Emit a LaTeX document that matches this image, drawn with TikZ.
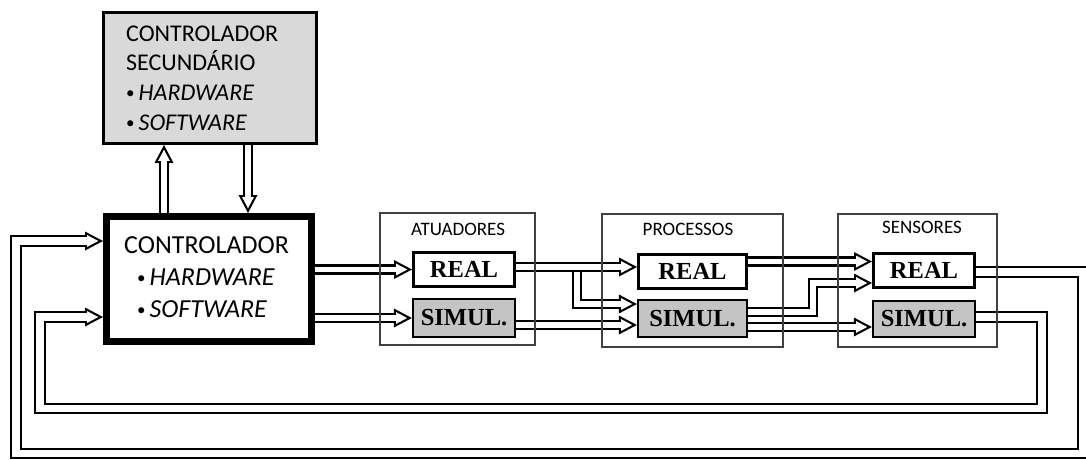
\documentclass[tikz,border=0pt]{standalone}
\usepackage{fontspec}
\setmainfont{Carlito}
\newfontfamily\rsfont{Liberation Serif}
\usetikzlibrary{arrows.meta}
\definecolor{secgray}{HTML}{D9D9D9}
\definecolor{simgray}{HTML}{C4C4C4}
\newcommand\mySecFont{\fontsize{24pt}{29pt}\selectfont}
\newcommand\myCtrlFont{\fontsize{26pt}{31pt}\selectfont}
\newcommand\myLblFont{\fontsize{19pt}{22pt}\selectfont}
\newcommand\myBoxFont{\rsfont\bfseries\fontsize{24.5pt}{27pt}\selectfont}
\newcommand\myBul{{\fontsize{17pt}{17pt}\selectfont\raisebox{1.5pt}{•}}\hspace{4pt}}
\begin{document}
\begin{tikzpicture}[x=1pt,y=-1pt,
  txt/.style={inner sep=0pt, anchor=base west},
  lbl/.style={inner sep=0pt, anchor=base, font=\myLblFont},
  grp/.style={draw=black!75, line width=1.3pt, inner sep=0pt},
  realbox/.style={draw, line width=3pt, fill=white, inner sep=0pt, font=\myBoxFont},
  simbox/.style={draw, line width=2.2pt, fill=simgray, inner sep=0pt, font=\myBoxFont},
  ctrlbox/.style={draw, line width=7pt, fill=white, inner sep=0pt},
  secbox/.style={draw, line width=3pt, fill=secgray, inner sep=0pt},
  fwd/.style={line join=miter, line width=10.2pt,
    -{Triangle[length=18pt,width=19pt,line width=0pt]},
    postaction={draw=white, line width=5.8pt, shorten >=4.72pt,
      -{Triangle[length=11.08pt,width=11.7pt,line width=0pt]}}},
  fb/.style={line join=miter, line width=11.8pt,
    -{Triangle[length=18pt,width=19pt,line width=0pt]},
    postaction={draw=white, line width=7.4pt, shorten >=4.72pt,
      -{Triangle[length=11.08pt,width=11.7pt,line width=0pt]}}}
]
\useasboundingbox (0,0) rectangle (1086,459);
\clip (0,0) rectangle (1086,459);
\fill[white] (0,0) rectangle (1086,459);

% secondary controller
\node[secbox, minimum width=213pt, minimum height=131pt] (sec) at (210,78) {};
\node[txt, font=\mySecFont] (sec1) at (126,41) {CONTROLADOR};
\node[txt, font=\mySecFont] (sec2) at (126,70) {SECUNDÁRIO};
\node[txt, font=\mySecFont] (sec3) at (126,100) {\myBul\textit{HARDWARE}};
\node[txt, font=\mySecFont] (sec4) at (126,130) {\myBul\textit{SOFTWARE}};

% main controller
\node[ctrlbox, minimum width=205pt, minimum height=125pt] (ctrl) at (209,279) {};
\node[txt, font=\myCtrlFont] (c1) at (124,253) {CONTROLADOR};
\node[txt, font=\myCtrlFont] (c2) at (137,285) {\myBul\textit{HARDWARE}};
\node[txt, font=\myCtrlFont] (c3) at (137,317) {\myBul\textit{SOFTWARE}};

% inner boxes
\node[realbox, minimum width=101pt, minimum height=34pt] (areal) at (464,269.5) {REAL};
\node[simbox, minimum width=102pt, minimum height=38pt] (asim) at (464,318) {SIMUL.};
\node[realbox, minimum width=108pt, minimum height=34pt] (preal) at (692.5,271.5) {REAL};
\node[simbox, minimum width=109pt, minimum height=37pt] (psim) at (692.5,318.5) {SIMUL.};
\node[realbox, minimum width=101pt, minimum height=34pt] (sreal) at (924,270.5) {REAL};
\node[simbox, minimum width=102pt, minimum height=36pt] (ssim) at (924,319) {SIMUL.};

% forward connectors
\coordinate (br) at (577,270);
\draw[fwd] (br) |- (psim.west |- 0,304);
\draw[fwd] (ctrl.east |- areal.west) -- (areal.west);
\draw[fwd] (ctrl.east |- asim.west) -- (asim.west);
\draw[fwd] (areal.east |- 0,267) -- (preal.west |- 0,267);
\draw[fwd] (asim.east |- 0,325) -- (psim.west |- 0,325);
\draw[fwd] (preal.east |- 0,261.5) -- (sreal.west |- 0,261.5);
\draw[fwd] (psim.east |- 0,312) -| (813,283) -- (sreal.west |- 0,283);
\draw[fwd] (psim.east |- 0,327) -- (ssim.west |- 0,327);

% controller <-> secondary
\draw[fwd] (ctrl.north -| 164,0) -- (sec.south -| 164,0);
\draw[fwd] (sec.south -| 248,0) -- (ctrl.north -| 248,0);

% feedback loops
\draw[fb] (sreal.east |- 0,272) -- (1083,272) |- (16,453.5) |- (ctrl.west |- 0,241);
\draw[fb] (ssim.east |- 0,317) -| (1042,408.5) -| (40,317) -- (ctrl.west |- 0,317);

% group boxes
\node[grp, minimum width=155pt, minimum height=132pt] (atu) at (457.5,279) {};
\node[grp, minimum width=181pt, minimum height=133pt] (pro) at (692.5,280.5) {};
\node[grp, minimum width=159pt, minimum height=133pt] (sen) at (917.5,280.5) {};
\node[lbl] (atul) at (458,235) {ATUADORES};
\node[lbl] (prol) at (688,235) {PROCESSOS};
\node[lbl] (senl) at (922,233) {SENSORES};
\end{tikzpicture}
\end{document}
